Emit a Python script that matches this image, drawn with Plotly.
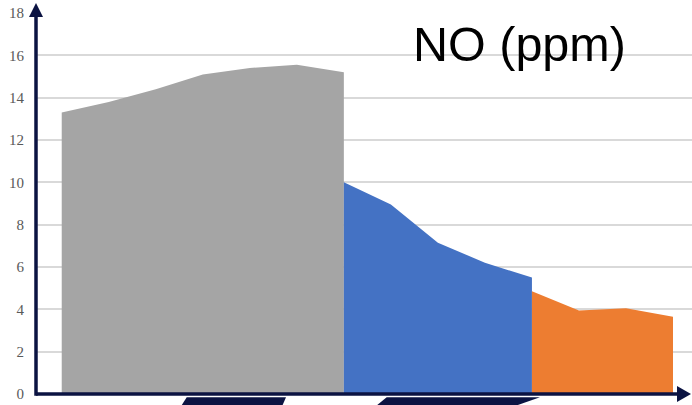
import plotly.graph_objects as go

# NO concentration profile, three stages
gray_x = [0, 1, 2, 3, 4, 5, 6]
gray_y = [13.3, 13.8, 14.4, 15.1, 15.4, 15.55, 15.2]

blue_x = [6, 7, 8, 9, 10]
blue_y = [10.0, 8.95, 7.15, 6.2, 5.5]

orange_x = [10, 11, 12, 13]
orange_y = [4.85, 3.95, 4.05, 3.65]

y_ticks = [0, 2, 4, 6, 8, 10, 12, 14, 16, 18]

W, H = 692, 405
ML, MR, MT, MB = 36, 0, 13, 11
PW, PH = W - ML - MR, H - MT - MB

NAVY = "#0b1342"


def px(x, y):
    """Pixel position -> paper coordinates."""
    return (x - ML) / PW, (H - MB - y) / PH


def poly(points):
    pts = [px(x, y) for x, y in points]
    d = "M " + " L ".join(f"{a:.5f},{b:.5f}" for a, b in pts) + " Z"
    return dict(type="path", xref="paper", yref="paper", path=d,
                fillcolor=NAVY, line=dict(width=0), layer="above")


def seg(x0, y0, x1, y1, w=3.5):
    a0, b0 = px(x0, y0)
    a1, b1 = px(x1, y1)
    return dict(type="line", xref="paper", yref="paper", x0=a0, y0=b0,
                x1=a1, y1=b1, line=dict(color=NAVY, width=w), layer="above")


fig = go.Figure()
for xs, ys, col in [(gray_x, gray_y, "#a5a5a5"),
                    (blue_x, blue_y, "#4472c4"),
                    (orange_x, orange_y, "#ed7d31")]:
    fig.add_trace(go.Scatter(x=xs, y=ys, mode="lines", fill="tozeroy",
                             fillcolor=col, line=dict(width=0, color=col),
                             hoverinfo="skip", showlegend=False))

shapes = [
    # axes with arrowheads
    seg(36, 394, 680, 394),
    seg(36, 395.7, 36, 15),
    poly([(691, 394), (677, 386), (677, 402)]),
    poly([(36, 3), (29, 17), (43, 17)]),
    # dark bands under the axis
    poly([(181.2, 406), (186.7, 397.3), (286, 397.3), (282.2, 406)]),
    poly([(376, 406), (386.7, 397.3), (540, 397.3), (515, 406)]),
]

fig.update_layout(
    width=W, height=H,
    margin=dict(l=ML, r=MR, t=MT, b=MB, pad=0),
    paper_bgcolor="white", plot_bgcolor="white",
    showlegend=False,
    shapes=shapes,
    xaxis=dict(range=[-0.547, 13.404], showgrid=False, zeroline=False,
               showticklabels=False, showline=False, fixedrange=True),
    yaxis=dict(range=[0, 18], tickvals=y_ticks, showgrid=True,
               gridcolor="#d9d9d9", gridwidth=1.5, zeroline=False,
               showline=False, ticks="", ticklabelstandoff=11,
               tickfont=dict(family="Liberation Sans Narrow", size=15,
                             color="#595959"),
               fixedrange=True),
    annotations=[dict(text="NO (ppm)", xref="paper", yref="paper",
                      x=px(519, 0)[0], y=px(0, 44)[1],
                      xanchor="center", yanchor="middle", showarrow=False,
                      font=dict(family="Liberation Sans", size=48.5,
                                color="black"))],
)

fig.write_html("out.html")
